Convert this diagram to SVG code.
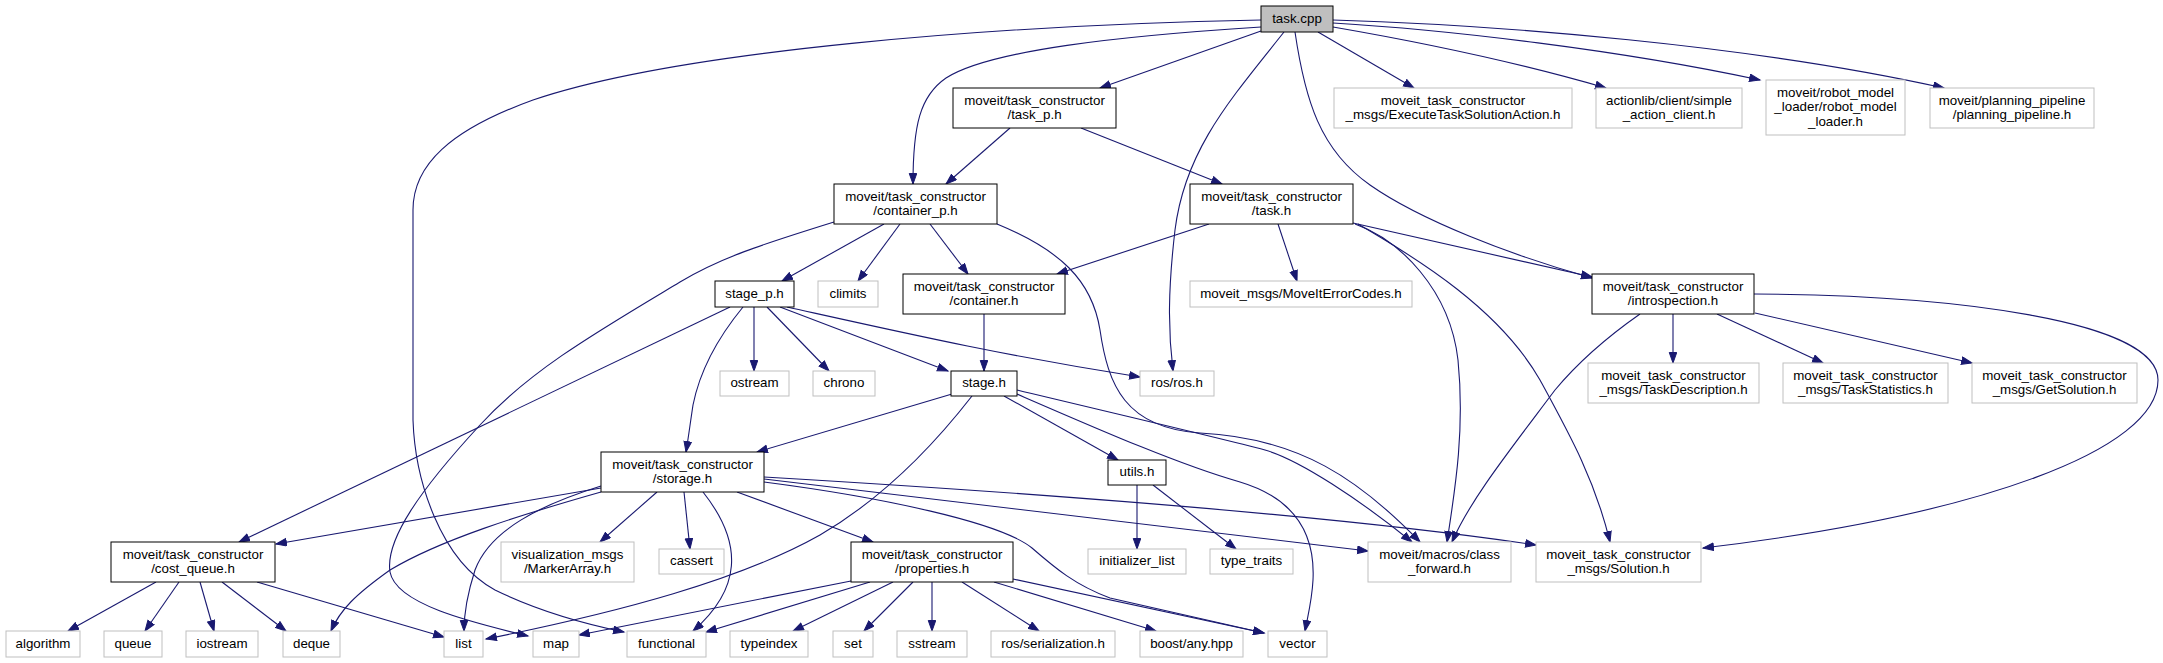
<svg xmlns="http://www.w3.org/2000/svg" width="2163" height="663" viewBox="0 0 2163 663">
<style>
text{font-family:"Liberation Sans",Arial,Helvetica,sans-serif;font-size:13.33px;text-anchor:middle;fill:#000}
.d rect{fill:#fff;stroke:#000;stroke-width:1}
.u rect{fill:#fff;stroke:#bfbfbf;stroke-width:1}
.r rect{fill:#bfbfbf;stroke:#000;stroke-width:1}
#edges path{fill:none;stroke:#191970;stroke-width:1.1;marker-end:url(#ah)}
</style>
<defs>
<marker id="ah" markerUnits="userSpaceOnUse" markerWidth="13" markerHeight="10" refX="11" refY="4.25" orient="auto">
<path d="M0.5,0.5 L11,4.25 L0.5,8 z" fill="#191970" stroke="#191970" stroke-width="1"/>
</marker>
</defs>
<rect width="2163" height="663" fill="#fff"/>
<g id="edges">
<path d="M1261,31 L1100,88"/>
<path d="M1261,27 C1120,36 990,50 946,78 C920,96 913,125 913,184"/>
<path d="M1261,20 C1000,25 680,50 533,100 C450,130 413,165 413,210 L413,420 C415,480 440,560 495,590 C540,612 590,625 624,632"/>
<path d="M1284,32 C1230,100 1185,150 1175,230 C1168,290 1168,330 1173,371"/>
<path d="M1295,32 C1305,100 1320,150 1370,185 C1420,220 1510,255 1592,278"/>
<path d="M1318,32 L1414,88"/>
<path d="M1333,27 C1420,42 1520,63 1606,88"/>
<path d="M1333,23 C1450,30 1620,50 1760,80"/>
<path d="M1333,20 C1500,25 1750,45 1944,88"/>
<path d="M1010,128 L946,184"/>
<path d="M1081,128 L1222,184"/>
<path d="M884,224 L782,281"/>
<path d="M900,224 L858,281"/>
<path d="M930,224 L968,274"/>
<path d="M834,222 C760,245 720,258 680,282 C600,330 530,370 480,425 C420,490 385,540 390,572 C396,604 470,622 528,636"/>
<path d="M997,224 C1060,250 1092,280 1100,330 C1108,385 1125,428 1200,433 C1300,438 1360,480 1420,542"/>
<path d="M1209,224 L1057,274"/>
<path d="M1278,224 L1297,281"/>
<path d="M1353,223 L1592,277"/>
<path d="M1355,224 C1400,240 1450,290 1458,360 C1465,430 1455,490 1447,542"/>
<path d="M1358,224 C1420,260 1500,310 1540,380 C1570,435 1595,480 1610,542"/>
<path d="M984,314 L984,371"/>
<path d="M730,307 L239,542"/>
<path d="M743,307 C720,335 700,370 693,405 C690,425 688,440 686,452"/>
<path d="M754,307 L754,371"/>
<path d="M767,307 L829,371"/>
<path d="M780,307 L948,371"/>
<path d="M787,307 C900,332 1000,355 1140,377"/>
<path d="M952,394 L757,452"/>
<path d="M972,396 C930,450 880,500 820,535 C740,580 620,612 486,639"/>
<path d="M1004,396 L1118,460"/>
<path d="M1017,390 C1100,410 1220,438 1265,450 C1300,460 1360,500 1412,542"/>
<path d="M1017,394 C1100,430 1180,465 1240,482 C1300,500 1315,540 1313,580 C1312,600 1308,615 1305,631"/>
<path d="M601,488 L276,544"/>
<path d="M601,486 C540,505 490,530 475,570 C467,595 464,615 464,631"/>
<path d="M601,492 C520,515 440,540 390,570 C355,595 340,610 331,631"/>
<path d="M657,492 L600,542"/>
<path d="M684,492 L690,549"/>
<path d="M703,492 C745,545 740,590 693,631"/>
<path d="M737,492 L873,542"/>
<path d="M764,482 C880,497 1000,522 1032,548 C1055,568 1075,585 1110,598 L1264,633"/>
<path d="M764,479 L1368,551"/>
<path d="M764,477 C950,488 1300,510 1536,545"/>
<path d="M156,582 L68,631"/>
<path d="M179,582 L145,631"/>
<path d="M200,582 L214,631"/>
<path d="M222,582 L286,631"/>
<path d="M257,582 L444,637"/>
<path d="M851,581 L579,635"/>
<path d="M870,582 L706,632"/>
<path d="M893,582 L793,631"/>
<path d="M913,582 L864,631"/>
<path d="M932,582 L932,631"/>
<path d="M962,582 L1039,631"/>
<path d="M994,582 L1156,631"/>
<path d="M1013,579 L1264,633"/>
<path d="M1137,485 L1137,549"/>
<path d="M1153,485 L1236,549"/>
<path d="M1673,314 L1673,363"/>
<path d="M1717,314 L1823,363"/>
<path d="M1755,313 L1972,363"/>
<path d="M1640,314 C1610,335 1580,360 1555,390 C1510,450 1470,500 1452,542"/>
<path d="M1754,294 C1950,295 2158,320 2158,380 C2158,450 1980,515 1703,548"/>
</g>
<g id="n_task_cpp" class="r"><rect x="1261" y="6" width="72" height="26"/><text x="1297" y="22.5">task.cpp</text></g>
<g id="n_task_p" class="d"><rect x="953" y="88" width="163" height="40"/><text x="1034.5" y="104.5">moveit/task_constructor</text><text x="1034.5" y="119">/task_p.h</text></g>
<g id="n_exec" class="u"><rect x="1334" y="88" width="238" height="40"/><text x="1453" y="104.5">moveit_task_constructor</text><text x="1453" y="119">_msgs/ExecuteTaskSolutionAction.h</text></g>
<g id="n_actionlib" class="u"><rect x="1596" y="88" width="146" height="40"/><text x="1669" y="104.5">actionlib/client/simple</text><text x="1669" y="119">_action_client.h</text></g>
<g id="n_rml" class="u"><rect x="1766" y="80" width="139" height="55"/><text x="1835.5" y="96.5">moveit/robot_model</text><text x="1835.5" y="111">_loader/robot_model</text><text x="1835.5" y="125.5">_loader.h</text></g>
<g id="n_pp" class="u"><rect x="1930" y="88" width="164" height="40"/><text x="2012" y="104.5">moveit/planning_pipeline</text><text x="2012" y="119">/planning_pipeline.h</text></g>
<g id="n_container_p" class="d"><rect x="834" y="184" width="163" height="40"/><text x="915.5" y="200.5">moveit/task_constructor</text><text x="915.5" y="215">/container_p.h</text></g>
<g id="n_task_h" class="d"><rect x="1190" y="184" width="163" height="40"/><text x="1271.5" y="200.5">moveit/task_constructor</text><text x="1271.5" y="215">/task.h</text></g>
<g id="n_stage_p" class="d"><rect x="715" y="281" width="79" height="26"/><text x="754.5" y="297.5">stage_p.h</text></g>
<g id="n_climits" class="u"><rect x="818" y="281" width="60" height="26"/><text x="848" y="297.5">climits</text></g>
<g id="n_container" class="d"><rect x="903" y="274" width="162" height="40"/><text x="984" y="290.5">moveit/task_constructor</text><text x="984" y="305">/container.h</text></g>
<g id="n_errcodes" class="u"><rect x="1190" y="281" width="222" height="26"/><text x="1301" y="297.5">moveit_msgs/MoveItErrorCodes.h</text></g>
<g id="n_introspection" class="d"><rect x="1592" y="274" width="162" height="40"/><text x="1673" y="290.5">moveit/task_constructor</text><text x="1673" y="305">/introspection.h</text></g>
<g id="n_ostream" class="u"><rect x="720" y="371" width="69" height="25"/><text x="754.5" y="387">ostream</text></g>
<g id="n_chrono" class="u"><rect x="813" y="371" width="62" height="25"/><text x="844" y="387">chrono</text></g>
<g id="n_stage" class="d"><rect x="951" y="371" width="66" height="25"/><text x="984" y="387">stage.h</text></g>
<g id="n_ros" class="u"><rect x="1140" y="371" width="74" height="25"/><text x="1177" y="387">ros/ros.h</text></g>
<g id="n_taskdesc" class="u"><rect x="1588" y="363" width="171" height="40"/><text x="1673.5" y="379.5">moveit_task_constructor</text><text x="1673.5" y="394">_msgs/TaskDescription.h</text></g>
<g id="n_taskstats" class="u"><rect x="1783" y="363" width="165" height="40"/><text x="1865.5" y="379.5">moveit_task_constructor</text><text x="1865.5" y="394">_msgs/TaskStatistics.h</text></g>
<g id="n_getsol" class="u"><rect x="1972" y="363" width="165" height="40"/><text x="2054.5" y="379.5">moveit_task_constructor</text><text x="2054.5" y="394">_msgs/GetSolution.h</text></g>
<g id="n_storage" class="d"><rect x="601" y="452" width="163" height="40"/><text x="682.5" y="468.5">moveit/task_constructor</text><text x="682.5" y="483">/storage.h</text></g>
<g id="n_utils" class="d"><rect x="1108" y="460" width="58" height="25"/><text x="1137" y="476">utils.h</text></g>
<g id="n_cost_queue" class="d"><rect x="111" y="542" width="164" height="40"/><text x="193" y="558.5">moveit/task_constructor</text><text x="193" y="573">/cost_queue.h</text></g>
<g id="n_marker" class="u"><rect x="501" y="542" width="133" height="40"/><text x="567.5" y="558.5">visualization_msgs</text><text x="567.5" y="573">/MarkerArray.h</text></g>
<g id="n_cassert" class="u"><rect x="659" y="549" width="65" height="25"/><text x="691.5" y="565">cassert</text></g>
<g id="n_properties" class="d"><rect x="851" y="542" width="162" height="40"/><text x="932" y="558.5">moveit/task_constructor</text><text x="932" y="573">/properties.h</text></g>
<g id="n_initlist" class="u"><rect x="1088" y="549" width="98" height="25"/><text x="1137" y="565">initializer_list</text></g>
<g id="n_typetraits" class="u"><rect x="1210" y="549" width="83" height="25"/><text x="1251.5" y="565">type_traits</text></g>
<g id="n_classfwd" class="u"><rect x="1368" y="542" width="143" height="40"/><text x="1439.5" y="558.5">moveit/macros/class</text><text x="1439.5" y="573">_forward.h</text></g>
<g id="n_solution" class="u"><rect x="1536" y="542" width="165" height="40"/><text x="1618.5" y="558.5">moveit_task_constructor</text><text x="1618.5" y="573">_msgs/Solution.h</text></g>
<g id="n_algorithm" class="u"><rect x="6" y="631" width="74" height="26"/><text x="43" y="647.5">algorithm</text></g>
<g id="n_queue" class="u"><rect x="104" y="631" width="58" height="26"/><text x="133" y="647.5">queue</text></g>
<g id="n_iostream" class="u"><rect x="186" y="631" width="72" height="26"/><text x="222" y="647.5">iostream</text></g>
<g id="n_deque" class="u"><rect x="283" y="631" width="57" height="26"/><text x="311.5" y="647.5">deque</text></g>
<g id="n_list" class="u"><rect x="444" y="631" width="39" height="26"/><text x="463.5" y="647.5">list</text></g>
<g id="n_map" class="u"><rect x="533" y="631" width="46" height="26"/><text x="556" y="647.5">map</text></g>
<g id="n_functional" class="u"><rect x="627" y="631" width="79" height="26"/><text x="666.5" y="647.5">functional</text></g>
<g id="n_typeindex" class="u"><rect x="730" y="631" width="78" height="26"/><text x="769" y="647.5">typeindex</text></g>
<g id="n_set" class="u"><rect x="833" y="631" width="40" height="26"/><text x="853" y="647.5">set</text></g>
<g id="n_sstream" class="u"><rect x="897" y="631" width="70" height="26"/><text x="932" y="647.5">sstream</text></g>
<g id="n_rosser" class="u"><rect x="991" y="631" width="124" height="26"/><text x="1053" y="647.5">ros/serialization.h</text></g>
<g id="n_boostany" class="u"><rect x="1140" y="631" width="103" height="26"/><text x="1191.5" y="647.5">boost/any.hpp</text></g>
<g id="n_vector" class="u"><rect x="1268" y="631" width="59" height="26"/><text x="1297.5" y="647.5">vector</text></g>
</svg>
